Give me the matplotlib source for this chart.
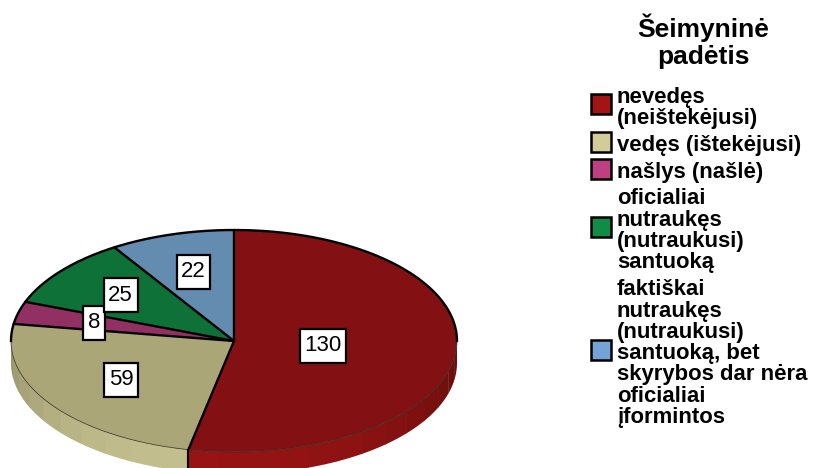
import numpy as np
import matplotlib
matplotlib.use("Agg")
import matplotlib.pyplot as plt
from matplotlib.colors import to_rgb
from matplotlib.transforms import IdentityTransform

W, H = 820, 468
categories = [
    "nevedęs\n(neištekėjusi)",
    "vedęs (ištekėjusi)",
    "našlys (našlė)",
    "oficialiai\nnutraukęs\n(nutraukusi)\nsantuoką",
    "faktiškai\nnutraukęs\n(nutraukusi)\nsantuoką, bet\nskyrybos dar nėra\noficialiai\nįformintos",
]
values = [130, 59, 8, 25, 22]
legend_title = ["Šeimyninė", "padėtis"]

swatch_colors = ["#a31515", "#d2cd98", "#bd4080", "#118c46", "#74a4d6"]
top_colors = ["#831113", "#aba678", "#933063", "#0d7138", "#648bb0"]
label_radius = [0.40, 0.615, 0.65, 0.655, 0.65]

# pixel geometry of the flattened pie
cx, cy, rx, ry, depth = 234, 341, 223, 111, 22

plt.rcParams["font.family"] = ["Liberation Sans", "DejaVu Sans"]
fig = plt.figure(figsize=(W / 100, H / 100), dpi=100)
ax = fig.add_axes([0, 0, 1, 1])

ax.pie(values, colors=top_colors, startangle=90, counterclock=False,
       wedgeprops=dict(edgecolor="none", linewidth=0, zorder=3))
ax.set_aspect("auto")
ax.set_xlim(-cx / rx, (W - cx) / rx)
ax.set_ylim(-(H - cy) / ry, cy / ry)
d = depth / ry

# side wall: clockwise degrees from 12 o'clock
edges = np.concatenate([[0], np.cumsum(values)]) / sum(values) * 360
for i in range(len(values)):
    lo, hi = max(edges[i], 90), min(edges[i + 1], 270)
    if hi <= lo:
        continue
    steps = np.linspace(lo, hi, max(2, int((hi - lo) / 7.5) + 1))
    base = np.array(to_rgb(swatch_colors[i]))
    for a0, a1 in zip(steps[:-1], steps[1:]):
        t = np.radians(np.linspace(a0, a1 + 0.3, 8))
        x, y = np.sin(t), np.cos(t)
        mid = np.radians((a0 + a1) / 2 - 190)
        f = 0.66 + 0.27 * max(np.cos(mid), 0)
        ax.fill(np.r_[x, x[::-1]], np.r_[y, y[::-1] - d],
                color=tuple(base * f), lw=0, zorder=1)

# outlines: heavy on the upper arc and the radii, faint along the front rim
t_up = np.radians(np.linspace(-90, 90, 200))
ax.plot(np.sin(t_up), np.cos(t_up), color="black", lw=1.7, zorder=4)
t_low = np.radians(np.linspace(90, 270, 200))
ax.plot(np.sin(t_low), np.cos(t_low), color="#2a2a20", lw=0.5, zorder=4)
for e in edges[:-1]:
    a = np.radians(e)
    ax.plot([0, np.sin(a)], [0, np.cos(a)], color="black", lw=1.7, zorder=4,
            solid_capstyle="round")
a = np.radians(edges[1])
ax.plot([np.sin(a)] * 2, [np.cos(a), np.cos(a) - d], color="black", lw=1.5, zorder=2)

# value labels, with boxes sized in pixels around the text
mids = (edges[:-1] + edges[1:]) / 2
fig.canvas.draw()
renderer = fig.canvas.get_renderer()
for v, m, r in zip(values, mids, label_radius):
    a = np.radians(m)
    tx = ax.text(r * np.sin(a), r * np.cos(a), str(v), ha="center", va="center",
                 fontsize=16, color="black", zorder=7)
    bb = tx.get_window_extent(renderer)
    px_c = ax.transData.transform((r * np.sin(a), r * np.cos(a)))
    bw, bh = bb.width + 9, 34
    ax.add_patch(plt.Rectangle((px_c[0] - bw / 2, px_c[1] - bh / 2), bw, bh,
                               transform=IdentityTransform(), fc="white", ec="black",
                               lw=1.6, zorder=6))

# legend in figure pixels
def px(x, y):
    return x / W, 1 - y / H

for line, y in zip(legend_title, [37, 64]):
    fig.text(*px(703, y), line, ha="center", va="baseline", fontsize=19,
             fontweight="bold")

line_baselines = [[103, 124], [151], [178], [204, 226, 247, 268],
                  [295, 317, 338, 359, 380, 402, 423]]
swatch_y = [104, 142, 169, 227, 350]
for lab, ys, sy, c in zip(categories, line_baselines, swatch_y, swatch_colors):
    for line, y in zip(lab.split("\n"), ys):
        fig.text(*px(617, y), line, ha="left", va="baseline", fontsize=15.9,
                 fontweight="bold")
    fig.patches.append(plt.Rectangle(px(591, sy + 10), 20 / W, 20 / H, transform=fig.transFigure,
                                     fc=c, ec="black", lw=1.8))
fig.savefig("out.png", dpi=100)
